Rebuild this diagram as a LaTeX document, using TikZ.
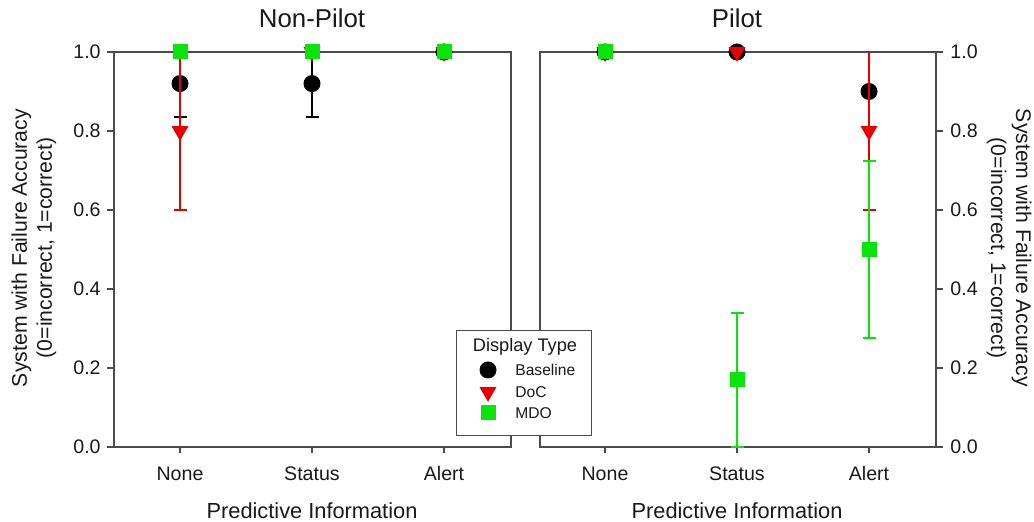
\documentclass[tikz,border=0pt]{standalone}
\usepackage{fontspec}
\setmainfont{Liberation Sans}
\usepackage{tikz}
\usetikzlibrary{shapes.geometric}

\definecolor{docred}{RGB}{232,0,0}
\definecolor{mdogreen}{RGB}{10,228,10}
\definecolor{axisgray}{RGB}{75,75,75}
\definecolor{inkgray}{RGB}{25,25,25}

\tikzset{
  frameline/.style={draw=axisgray,line width=0.75pt},
  errbar/.style={line width=1pt},
  basemark/.style={circle,fill=black,inner sep=0pt,minimum size=8.5pt},
  docmark/.style={regular polygon,regular polygon sides=3,shape border rotate=180,
    fill=docred,inner sep=0pt,minimum size=9.8pt},
  mdomark/.style={rectangle,fill=mdogreen,inner sep=0pt,minimum size=7.5pt},
  ticklabel/.style={text=inkgray,font=\fontsize{9.8}{11}\selectfont,inner sep=0pt},
  axislabel/.style={text=inkgray,font=\fontsize{10.9}{12.5}\selectfont,inner sep=0pt,align=center},
  paneltitle/.style={text=inkgray,font=\fontsize{12.9}{15}\selectfont,inner sep=0pt},
}

\begin{document}
\begin{tikzpicture}[x=0.5pt,y=-0.5pt]
    \useasboundingbox (0,0) rectangle (1034,522);

    % the two panels
    \draw[frameline] (114,52) rectangle (511,447);
    \draw[frameline] (540,52) rectangle (936,447);
    \node[paneltitle] (ttlnp) at (312,18) {Non-Pilot};
    \node[paneltitle] (ttlp) at (737,18) {Pilot};

    % y axes, left and right
    \foreach \v [count=\i] in {0.0,0.2,0.4,0.6,0.8,1.0} {
      \draw[frameline] (107,{447-395*\v}) -- (114,{447-395*\v});
      \draw[frameline] (936,{447-395*\v}) -- (943,{447-395*\v});
      \node[ticklabel,anchor=east] (yl\i) at (101,{447-395*\v}) {\v};
      \node[ticklabel,anchor=west] (yr\i) at (950,{447-395*\v}) {\v};
    }
    \node[axislabel,font=\fontsize{10.6}{12.5}\selectfont,rotate=90] (ylabl) at (34,248)
      {System with Failure Accuracy\\(0=incorrect, 1=correct)};
    \node[axislabel,font=\fontsize{10.6}{12.5}\selectfont,rotate=-90] (ylabr) at (1009,248)
      {System with Failure Accuracy\\(0=incorrect, 1=correct)};

    % x axes
    \foreach \c/\x [count=\i] in {None/180,Status/312,Alert/444} {
      \draw[frameline] (\x,447) -- (\x,453);
      \draw[frameline] ({\x+425},447) -- ({\x+425},453);
      \node[ticklabel] (xl\i) at (\x,474) {\c};
      \node[ticklabel] (xr\i) at ({\x+425},474) {\c};
    }
    \node[axislabel] (xlabl) at (312,511) {Predictive Information};
    \node[axislabel] (xlabr) at (737,511) {Predictive Information};

    % Baseline
    \foreach \x/\lo/\hi in {180/0.835/1.0,312/0.835/1.0}
      \draw[errbar] (\x,{447-395*\lo}) -- (\x,{447-395*\hi});
    \foreach \x/\v in {180/0.835,312/0.835}
      \draw[errbar] ({\x-6.5},{447-395*\v}) -- ++(13,0);
    \foreach \x/\v [count=\i] in {180/0.92,312/0.92,444/1.0,605/1.0,737/1.0,869/0.9}
      \node[basemark] (base\i) at (\x,{447-395*\v}) {};

    % DoC
    \foreach \x/\lo/\hi in {180/0.6/1.0,869/0.6/1.0}
      \draw[errbar,docred] (\x,{447-395*\lo}) -- (\x,{447-395*\hi});
    \foreach \x/\v in {180/0.6,869/0.6}
      \draw[errbar,docred] ({\x-6.5},{447-395*\v}) -- ++(13,0);
    \foreach \x/\v [count=\i] in {180/0.8,312/1.0,444/1.0,605/1.0,737/1.0,869/0.8}
      \node[docmark] (doc\i) at (\x,{447-395*\v}) {};

    % MDO
    \foreach \x/\lo/\hi in {737/0.0/0.34,869/0.275/0.725}
      \draw[errbar,mdogreen] (\x,{447-395*\lo}) -- (\x,{447-395*\hi});
    \foreach \x/\v in {737/0.0,737/0.34,869/0.275,869/0.725}
      \draw[errbar,mdogreen] ({\x-6.5},{447-395*\v}) -- ++(13,0);
    \foreach \x/\v [count=\i] in {180/1.0,312/1.0,444/1.0,605/1.0,737/0.17,869/0.5}
      \node[mdomark] (mdo\i) at (\x,{447-395*\v}) {};

    % legend
    \node[draw=axisgray,line width=0.6pt,fill=white,anchor=north west,
      minimum width=67.5pt,minimum height=52.5pt] (legbox) at (456,330) {};
    \node[text=inkgray,font=\fontsize{9.1}{11}\selectfont,inner sep=0pt] (legttl) at (525,347) {Display Type};
    \node[basemark] (legbase) at (488,370) {};
    \node[docmark] (legdoc) at (488,392) {};
    \node[mdomark] (legmdo) at (488,413) {};
    \foreach \m/\t in {legbase/Baseline,legdoc/DoC,legmdo/MDO}
      \node[text=inkgray,font=\fontsize{7.8}{9}\selectfont,inner sep=0pt,anchor=west]
        (\m txt) at ([xshift=13.5pt]\m.center) {\t};
\end{tikzpicture}
\end{document}
